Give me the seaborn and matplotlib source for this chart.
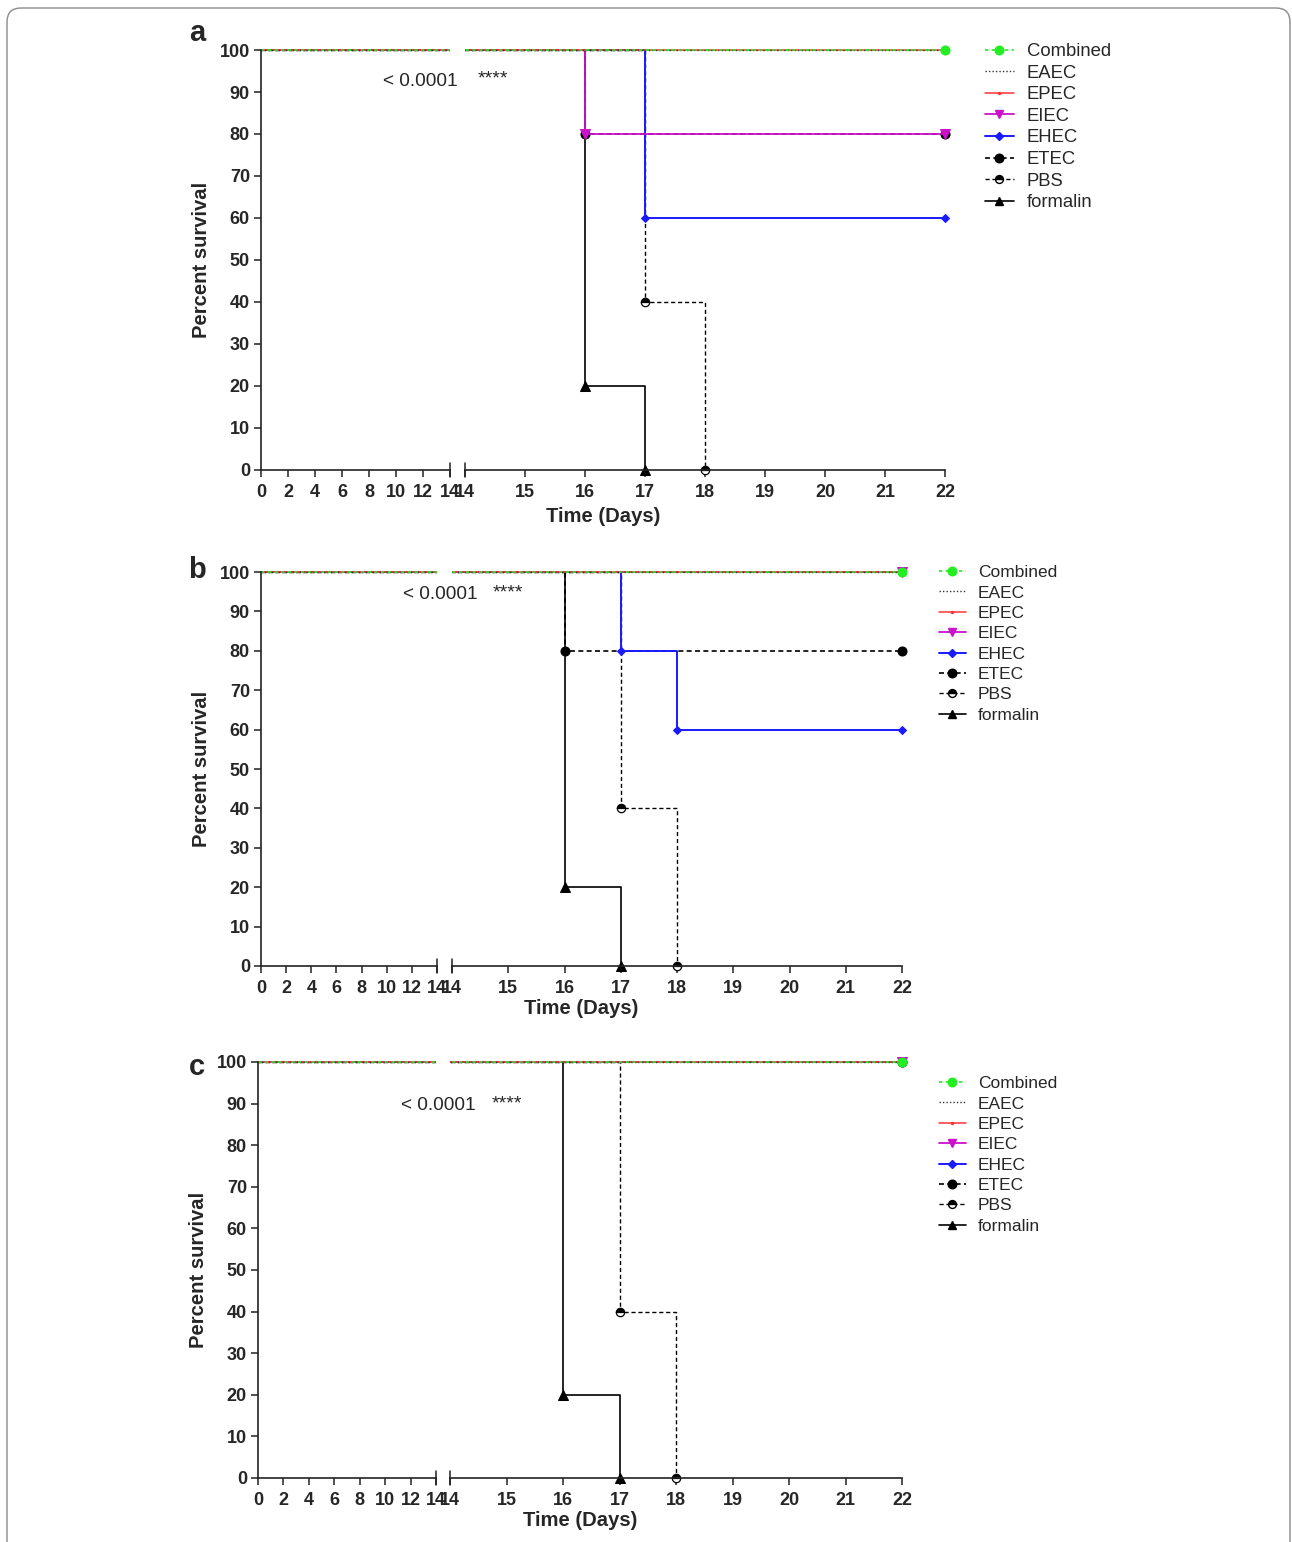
import matplotlib
matplotlib.use("Agg")
import matplotlib.pyplot as plt
import seaborn as sns
import pandas as pd
from matplotlib.lines import Line2D
from matplotlib.patches import FancyBboxPatch
from matplotlib.transforms import IdentityTransform

# ---------------------------------------------------------------------------
# Survival data: step points (day, percent survival) for each group.
# The first point is the start of follow-up, the rest are events/censoring.
# ---------------------------------------------------------------------------
GROUPS = ["Combined", "EAEC", "EPEC", "EIEC", "EHEC", "ETEC", "PBS", "formalin"]

SURV_A = {
    "Combined": [(0, 100), (22, 100)],
    "EAEC":     [(0, 100), (22, 100)],
    "EPEC":     [(0, 100), (22, 100)],
    "EIEC":     [(0, 100), (16, 80), (22, 80)],
    "EHEC":     [(0, 100), (17, 60), (22, 60)],
    "ETEC":     [(0, 100), (16, 80), (22, 80)],
    "PBS":      [(0, 100), (17, 40), (18, 0)],
    "formalin": [(0, 100), (16, 20), (17, 0)],
}
SURV_B = {
    "Combined": [(0, 100), (22, 100)],
    "EAEC":     [(0, 100), (22, 100)],
    "EPEC":     [(0, 100), (22, 100)],
    "EIEC":     [(0, 100), (22, 100)],
    "EHEC":     [(0, 100), (17, 80), (18, 60), (22, 60)],
    "ETEC":     [(0, 100), (16, 80), (22, 80)],
    "PBS":      [(0, 100), (17, 40), (18, 0)],
    "formalin": [(0, 100), (16, 20), (17, 0)],
}
SURV_C = {
    "Combined": [(0, 100), (22, 100)],
    "EAEC":     [(0, 100), (22, 100)],
    "EPEC":     [(0, 100), (22, 100)],
    "EIEC":     [(0, 100), (22, 100)],
    "EHEC":     [(0, 100), (22, 100)],
    "ETEC":     [(0, 100), (22, 100)],
    "PBS":      [(0, 100), (17, 40), (18, 0)],
    "formalin": [(0, 100), (16, 20), (17, 0)],
}

P_TEXT = "< 0.0001"
P_STARS = "****"

LEFT_TICKS = [0, 2, 4, 6, 8, 10, 12, 14]
RIGHT_TICKS = [14, 15, 16, 17, 18, 19, 20, 21, 22]
Y_TICKS = [0, 10, 20, 30, 40, 50, 60, 70, 80, 90, 100]

# Line / marker styles per group
STYLE = {
    "Combined": dict(color="#22ee22", ls=(0, (2, 2)), lw=1.2, marker="o", ms=6.5),
    "EAEC":     dict(color="#333333", ls=(0, (1, 1.5)), lw=1.0, marker=None, ms=0),
    "EPEC":     dict(color="#ff3333", ls="-", lw=1.1, marker=".", ms=3),
    "EIEC":     dict(color="#cc11cc", ls="-", lw=1.3, marker="v", ms=6.5),
    "EHEC":     dict(color="#1a1aff", ls="-", lw=1.4, marker="D", ms=4.2),
    "ETEC":     dict(color="black", ls=(0, (3, 2)), lw=1.2, marker="o", ms=6.5),
    "PBS":      dict(color="black", ls=(0, (3, 2)), lw=1.0, marker="o", ms=6, half=True),
    "formalin": dict(color="black", ls="-", lw=1.2, marker="^", ms=6.5),
}

# ---------------------------------------------------------------------------
sns.set_theme(style="ticks")
plt.rcParams["font.family"] = ["Liberation Sans", "DejaVu Sans"]

W, H = 1292, 1542
fig = plt.figure(figsize=(W / 100, H / 100), dpi=100)

# rounded outer frame
fig.patches.append(FancyBboxPatch((7, -20), 1283, H - 8 + 20,
                                  boxstyle="round,pad=0,rounding_size=14",
                                  transform=IdentityTransform(), fill=False,
                                  edgecolor="#8a8a8a", linewidth=1.0))

PAD = 1.5  # y-limits padding so 0 / 100 lines are not clipped
TICK_FS = 13
LABEL_FS = 14.6


def add_px(left, right, y100, y0):
    """Create axes whose data range 0..100 maps to pixel rows y100..y0."""
    unit = (y0 - y100) / 100.0
    top = y100 - PAD * unit
    bottom = y0 + PAD * unit
    return fig.add_axes([left / W, 1 - bottom / H, (right - left) / W, (bottom - top) / H])


def draw_panel(surv, letter, letter_y, x0, x14a, x14b, x22, y100, y0, xlab_off,
               legend_xy, legend_fs, legend_sp, ptext_xy, stars_xy):
    axl = add_px(x0, x14a, y100, y0)
    axr = add_px(x14b, x22, y100, y0)
    unit = (y0 - y100) / 100.0
    ax_h = (y0 - y100) + 2 * PAD * unit
    for ax, (lo, hi) in ((axl, (0, 14)), (axr, (14, 22))):
        ax.set_xlim(lo, hi)
        ax.set_ylim(-PAD, 100 + PAD)
        ax.spines["top"].set_visible(False)
        ax.spines["right"].set_visible(False)
        ax.spines["bottom"].set_position(("data", 0))
        ax.spines["left"].set_bounds(0, 100)
        for s in ("left", "bottom"):
            ax.spines[s].set_linewidth(1.2)
            ax.spines[s].set_color("#222222")
        ax.tick_params(axis="both", length=5, width=1.1, color="#222222", pad=3)
        ax.tick_params(axis="x", pad=5)
        ax.patch.set_alpha(0)

    # draw curves: last group first so "Combined" sits on top
    for g in reversed(GROUPS):
        st = STYLE[g]
        df = pd.DataFrame(surv[g], columns=["day", "pct"])
        for ax in (axl, axr):
            sns.lineplot(data=df, x="day", y="pct", ax=ax, drawstyle="steps-post",
                         color=st["color"], linestyle=st["ls"], linewidth=st["lw"],
                         errorbar=None, sort=True)
        if st["marker"]:
            ev = df.iloc[1:]
            kw = dict(marker=st["marker"], markersize=st["ms"], linestyle="none",
                      color=st["color"], markeredgecolor=st["color"], clip_on=False)
            if st.get("half"):
                kw.update(fillstyle="top", markerfacecolor="black",
                          markerfacecoloralt="white", markeredgewidth=0.9)
            sns.lineplot(data=ev, x="day", y="pct", ax=axr, errorbar=None, **kw)

    # axes cosmetics
    axl.set_xticks(LEFT_TICKS, labels=[str(t) for t in LEFT_TICKS],
                   fontweight="bold", fontsize=TICK_FS)
    axr.set_xticks(RIGHT_TICKS, labels=[str(t) for t in RIGHT_TICKS],
                   fontweight="bold", fontsize=TICK_FS)
    axl.set_yticks(Y_TICKS, labels=[str(t) for t in Y_TICKS],
                   fontweight="bold", fontsize=TICK_FS)
    axr.spines["left"].set_visible(False)
    axr.tick_params(axis="y", left=False, labelleft=False)
    axl.set_xlabel("")
    axr.set_ylabel("")
    axl.set_ylabel("Percent survival", fontweight="bold", fontsize=LABEL_FS)
    axl.yaxis.set_label_coords(-50 / (x14a - x0), 0.5)
    axr.set_xlabel("Time (Days)", fontweight="bold", fontsize=LABEL_FS, va="center")
    mid = (x0 + x22) / 2
    axr.xaxis.set_label_coords((mid - x14b) / (x22 - x14b),
                               -(xlab_off - PAD * unit) / ax_h)

    # axis-break marks
    f0 = PAD * unit / ax_h
    h = 7.0 / ax_h
    for ax in (axl, axr):
        ax.plot([14, 14], [f0 - h, f0 + h], transform=ax.get_xaxis_transform(),
                color="#222222", lw=1.1, clip_on=False)

    # panel letter and statistics text
    fig.text(197 / W, 1 - letter_y / H, letter, fontsize=21, fontweight="bold",
             ha="center", va="center")
    fig.text(ptext_xy[0] / W, 1 - ptext_xy[1] / H, P_TEXT, fontsize=13.7,
             ha="center", va="center")
    fig.text(stars_xy[0] / W, 1 - stars_xy[1] / H, P_STARS, fontsize=14,
             ha="center", va="center")

    # legend
    handles = []
    for g in GROUPS:
        st = STYLE[g]
        kw = dict(color=st["color"], linestyle=st["ls"], linewidth=st["lw"])
        if st["marker"]:
            kw.update(marker=st["marker"], markersize=st["ms"] * 0.95,
                      markeredgecolor=st["color"])
            if st.get("half"):
                kw.update(fillstyle="top", markerfacecolor="black",
                          markerfacecoloralt="white")
        handles.append(Line2D([], [], **kw))
    fig.legend(handles, GROUPS, loc="upper left",
               bbox_to_anchor=(legend_xy[0] / W, 1 - legend_xy[1] / H),
               frameon=False, fontsize=legend_fs, handlelength=1.55,
               handletextpad=0.7, labelspacing=legend_sp, borderpad=0,
               borderaxespad=0)


draw_panel(SURV_A, "a", 33, 261, 450, 465, 945, 50, 470, 46,
           (985, 43), 13.3, 0.25, (420, 81), (493, 79))
draw_panel(SURV_B, "b", 570, 261, 437, 452, 902, 572, 966, 42,
           (939, 565), 12.5, 0.3, (440, 595), (508, 593))
draw_panel(SURV_C, "c", 1067, 258, 436, 450, 902, 1062, 1478, 43,
           (939, 1076), 12.5, 0.3, (438, 1106), (507, 1104))

fig.savefig("out.png", dpi=100)
